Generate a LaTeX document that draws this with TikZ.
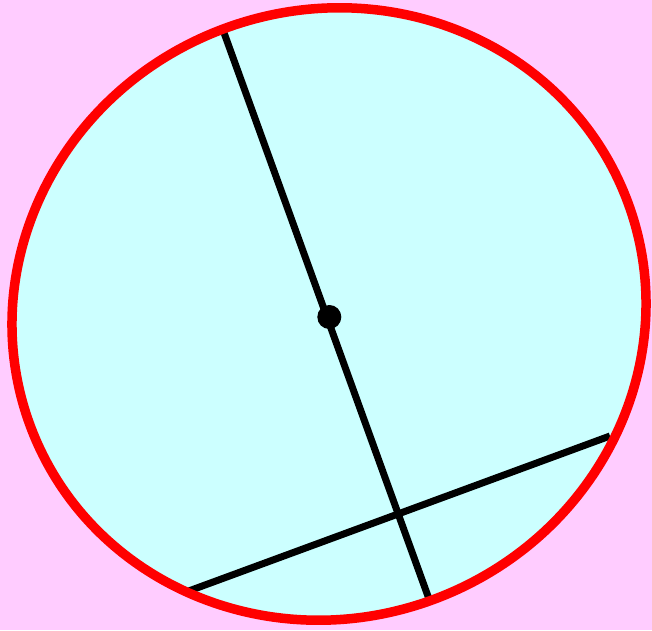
\documentclass[tikz,border=0pt]{standalone}
\definecolor{bgpink}{HTML}{FFCCFF}
\definecolor{fillcyan}{HTML}{CCFFFF}
\definecolor{rimred}{HTML}{FF0000}
\tikzset{
  rim/.style={draw=rimred,line width=9.5pt},
  rimfill/.style={fill=fillcyan},
  segline/.style={draw=black,line width=7pt},
  dotnode/.style={circle,fill=black,inner sep=0pt,minimum size=24pt}
}
\begin{document}
\begin{tikzpicture}[x=1pt,y=1pt]
\fill[bgpink] (0,0) rectangle (652,630);
\useasboundingbox (0,0) rectangle (652,630);
\fill[rimfill,rotate around={22:(329,316)}] (329,316) ellipse [x radius=319, y radius=304];
\coordinate (A) at (223,600);
\coordinate (B) at (429,31);
\coordinate (C) at (186,38);
\coordinate (D) at (610,194);
\draw[segline] (A) -- (B);
\draw[segline] (C) -- (D);
\node[dotnode] (O) at (329.3,313) {};
\draw[rim,rotate around={22:(329,316)}] (329,316) ellipse [x radius=319, y radius=304];
\end{tikzpicture}
\end{document}
